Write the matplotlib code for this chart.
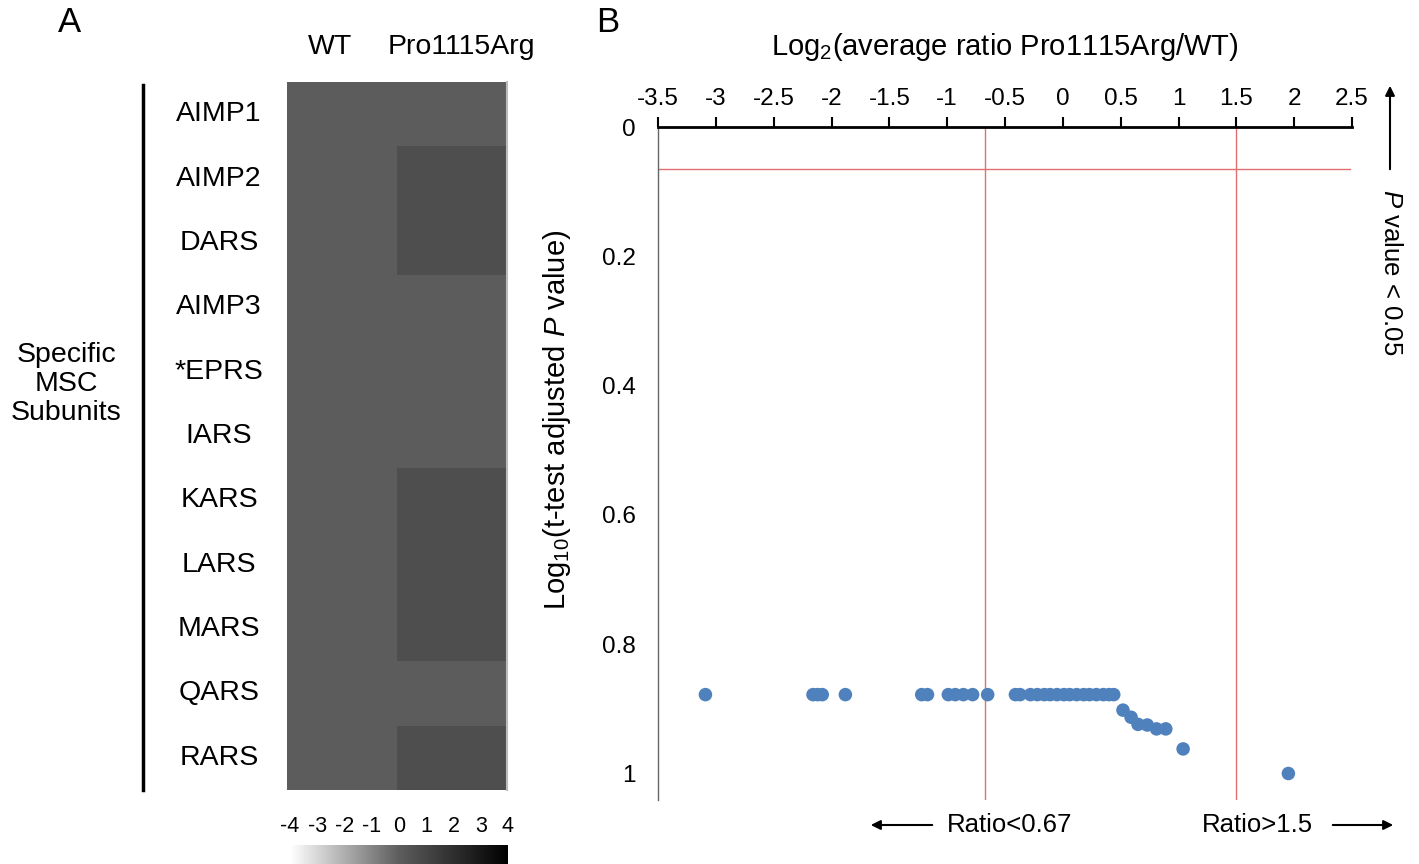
import numpy as np
import matplotlib
matplotlib.use("Agg")
import matplotlib.pyplot as plt
from matplotlib.colors import LinearSegmentedColormap
from matplotlib.transforms import blended_transform_factory

plt.rcParams['font.family'] = ['Liberation Sans', 'DejaVu Sans']
plt.rcParams['mathtext.fontset'] = 'custom'
plt.rcParams['mathtext.rm'] = 'Liberation Sans'
plt.rcParams['mathtext.it'] = 'Liberation Sans:italic'

# panel A data
subunits = ['AIMP1', 'AIMP2', 'DARS', 'AIMP3', '*EPRS', 'IARS',
            'KARS', 'LARS', 'MARS', 'QARS', 'RARS']
columns = ['WT', 'Pro1115Arg']
wt_vals = [0, 0, 0, 0, 0, 0, 0, 0, 0, 0, 0]
mut_vals = [0.0, 0.6, 0.6, 0.0, 0.0, 0.0, 0.6, 0.6, 0.6, 0.0, 0.6]
cbar_ticks = [-4, -3, -2, -1, 0, 1, 2, 3, 4]

# panel B data
log2_ratio = [-3.09, -2.16, -2.12, -2.08, -1.88, -1.22, -1.17,
              -0.99, -0.93, -0.86, -0.78, -0.65, -0.41, -0.37,
              -0.28, -0.22, -0.16, -0.11, -0.05, 0.01, 0.06, 0.12,
              0.18, 0.23, 0.29, 0.35, 0.40, 0.44,
              0.52, 0.59, 0.65, 0.73, 0.81, 0.89, 1.04, 1.95]
log10_p = [0.878, 0.878, 0.878, 0.878, 0.878, 0.878, 0.878,
           0.878, 0.878, 0.878, 0.878, 0.878, 0.878, 0.878,
           0.878, 0.878, 0.878, 0.878, 0.878, 0.878, 0.878, 0.878,
           0.878, 0.878, 0.878, 0.878, 0.878, 0.878,
           0.902, 0.913, 0.924, 0.925, 0.931, 0.931, 0.962, 1.0]
ratio_low = -0.67
ratio_high = 1.5
p_cut = 0.065

W, H = 1419, 864
fig = plt.figure(figsize=(W / 100, H / 100), dpi=100)


def px(x0, y0, x1, y1):
    # pixel box -> figure fractions
    return [x0 / W, 1 - y1 / H, (x1 - x0) / W, (y1 - y0) / H]


cmap = LinearSegmentedColormap.from_list('grey', ['#ffffff', '#5d5d5d', '#000000'])

# ---- panel A: heatmap
axA = fig.add_axes(px(287, 82, 507, 790))
data = np.column_stack([wt_vals, mut_vals])
im = axA.imshow(data, cmap=cmap, vmin=-4, vmax=4, aspect='auto', interpolation='nearest')
axA.set_xticks([])
axA.set_yticks([])
for s in axA.spines.values():
    s.set_visible(False)
axA.plot([1.0, 1.0], [0, 1], transform=axA.transAxes, color='#bbbbbb', lw=1.5, clip_on=False)

trans = blended_transform_factory(axA.transAxes, axA.transData)
for i, name in enumerate(subunits):
    axA.text(-0.309, i, name, transform=trans, ha='center', va='center', fontsize=20.5)

fig.text(330 / W, 1 - 47 / H, columns[0], ha='center', va='center', fontsize=20.5)
fig.text(461 / W, 1 - 47 / H, columns[1], ha='center', va='center', fontsize=20.5)
fig.lines.append(plt.Line2D([143 / W, 143 / W], [1 - 85 / H, 1 - 790 / H],
                            transform=fig.transFigure, color='black', lw=2.5))
fig.text(66 / W, 1 - 384 / H, 'Specific\nMSC\nSubunits', ha='center', va='center',
         fontsize=20.5, linespacing=1.15)
fig.text(70 / W, 1 - 22 / H, 'A', ha='center', va='center', fontsize=25)
fig.text(608 / W, 1 - 22 / H, 'B', ha='center', va='center', fontsize=25)

# colour bar
cax = fig.add_axes(px(290, 845, 508, 870))
cb = fig.colorbar(im, cax=cax, orientation='horizontal', ticks=cbar_ticks)
cb.outline.set_visible(False)
cax.xaxis.set_ticks_position('top')
cax.set_xticklabels([str(t).replace('\u2212', '-') for t in cbar_ticks])
cax.tick_params(length=0, labelsize=15.5, pad=6)

# ---- panel B: scatter
axB = fig.add_axes(px(658, 127, 1352, 800))
axB.scatter(log2_ratio, log10_p, s=95, color='#4f81bd', edgecolors='none', zorder=3)
axB.set_xlim(-3.5, 2.5)
axB.set_ylim(1.041, 0)
axB.axvline(ratio_low, color='#e07070', lw=1, zorder=1)
axB.axvline(ratio_high, color='#e07070', lw=1, zorder=1)
axB.plot([-3.5, 2.48], [p_cut, p_cut], color='#e07070', lw=1, zorder=1)

axB.xaxis.set_ticks_position('top')
axB.set_xticks(np.arange(-3.5, 2.51, 0.5))
axB.set_xticklabels(['-3.5', '-3', '-2.5', '-2', '-1.5', '-1', '-0.5', '0',
                     '0.5', '1', '1.5', '2', '2.5'])
axB.set_yticks([0, 0.2, 0.4, 0.6, 0.8, 1.0])
axB.set_yticklabels(['0', '0.2', '0.4', '0.6', '0.8', '1'])
axB.tick_params(axis='x', direction='out', length=7, width=1.5, labelsize=17.5, pad=5)
axB.tick_params(axis='y', length=0, labelsize=17.5, pad=16)
axB.spines['right'].set_visible(False)
axB.spines['bottom'].set_visible(False)
axB.spines['top'].set_linewidth(2)
axB.spines['left'].set_linewidth(1)
axB.spines['left'].set_color('#666666')

fig.text(1005 / W, 1 - 47 / H, r'Log$_2$(average ratio Pro1115Arg/WT)',
         ha='center', va='center', fontsize=21)
fig.text(557 / W, 1 - 420 / H, r'Log$_{10}$(t-test adjusted $P$ value)',
         ha='center', va='center', rotation=90, fontsize=21)

# arrows and notes
fig.text(1391 / W, 1 - 272 / H, r'$P$ value < 0.05', ha='center', va='center',
         rotation=-90, fontsize=18.5)
arrow = dict(arrowstyle='-|>', color='black', lw=1.5, mutation_scale=14)
fig.add_artist(plt.Annotation('', xy=(1390 / W, 1 - 83 / H), xytext=(1390 / W, 1 - 172 / H),
                              xycoords='figure fraction', arrowprops=arrow))
fig.add_artist(plt.Annotation('', xy=(868 / W, 1 - 825 / H), xytext=(935 / W, 1 - 825 / H),
                              xycoords='figure fraction', arrowprops=arrow))
fig.add_artist(plt.Annotation('', xy=(1396 / W, 1 - 825 / H), xytext=(1330 / W, 1 - 825 / H),
                              xycoords='figure fraction', arrowprops=arrow))
fig.text(1010 / W, 1 - 825 / H, 'Ratio<0.67', ha='center', va='center', fontsize=18.5)
fig.text(1257 / W, 1 - 825 / H, 'Ratio>1.5', ha='center', va='center', fontsize=18.5)

fig.savefig('out.png', dpi=100)
